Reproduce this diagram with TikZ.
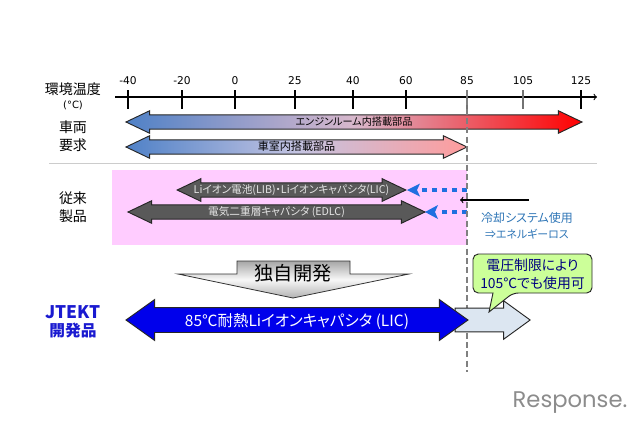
\documentclass[tikz,border=0pt]{standalone}
\usepackage{fontspec}
\setmainfont{Noto Sans CJK JP}[RawFeature=+palt]
\newfontfamily\latinfont{DejaVu Sans}
\newfontfamily\logofont{Poppins}
\usetikzlibrary{shapes.arrows}
\definecolor{coolblue}{HTML}{4F81C7}
\definecolor{pinkbg}{HTML}{FFCCFF}
\definecolor{dotblue}{HTML}{1F6FE0}
\definecolor{noteblue}{HTML}{2E75B6}
\definecolor{darkarrow}{HTML}{595959}
\definecolor{calloutgreen}{HTML}{CCFF99}
\definecolor{extfill}{HTML}{DCE6F1}
\definecolor{midrose}{HTML}{D8B8CC}
\definecolor{midlilac}{HTML}{C4C4E2}
\definecolor{paleRed}{HTML}{FF9C9C}
\definecolor{jtektblue}{HTML}{1A1AD0}
\tikzset{%
    ticklab/.style={font=\latinfont\fontsize{8}{8}\selectfont,inner sep=0pt},
    sidelab/.style={font=\fontsize{10.5}{10.5}\selectfont,inner sep=0pt},
    longarrow/.style={double arrow,draw=black!85,line width=0.7pt,inner sep=0pt,outer sep=0pt,
        text height=7.5pt,text depth=2.5pt,double arrow tip angle=51,
        minimum width=16.2pt,double arrow head extend=3.1pt},
    darkbar/.style={longarrow,fill=darkarrow,text=white!90!black,font=\fontsize{8}{8}\selectfont},
    dotline/.style={dotblue,line width=3.5pt,dash pattern=on 3.6pt off 3.9pt},
    dothead/.style={fill=dotblue,draw=none}
}
\begin{document}
\begin{tikzpicture}[x=0.75pt,y=-0.75pt]
    \useasboundingbox (0,0) rectangle (640,425);
    % temperature axis
    \coordinate (axl) at (115,97);
    \coordinate (axr) at (597,97);
    \draw[thick,->] (axl) -- (axr);
    \foreach \tname/\tx/\tlab/\tcol in {a/128/-40/black,b/182/-20/black,c/235/0/black,d/295/25/black,e/353/40/black,f/406/60/black,g/467/85/black!55,h/523/105/black!55,i/581/125/black}{
        \node[ticklab] (lab\tname) at (\tx,81) {\tlab};
        \coordinate (up\tname) at (\tx,90);
        \coordinate (lo\tname) at (\tx,109);
        \draw[thick,draw=\tcol] (up\tname) -- (lo\tname);
    }
    \node[sidelab] (envtemp) at (73,89) {環境温度};
    \node[inner sep=0pt,font=\latinfont\fontsize{7.5}{7.5}\selectfont] (envunit) at (73,105) {(°C)};
    \node[sidelab] (reqa) at (73,127) {車両};
    \node[sidelab] (reqb) at (73,145) {要求};
    % separator
    \coordinate (sepl) at (49,163.5);
    \coordinate (sepr) at (597,163.5);
    \draw[black!20,line width=1.2pt] (sepl) -- (sepr);
    % conventional band
    \fill[pinkbg] (112,170) rectangle (467,245);
    \node[sidelab] (conva) at (73,198) {従来};
    \node[sidelab] (convb) at (73,216) {製品};
    % requirement arrows
    \node[longarrow,minimum height=342pt,left color=coolblue,right color=red,middle color=midrose,
        font=\fontsize{7.6}{7.6}\selectfont] (engine) at (354,122) {エンジンルーム内搭載部品};
    \node[longarrow,minimum height=255.75pt,left color=coolblue,right color=paleRed,middle color=midlilac,
        font=\fontsize{8.3}{8.3}\selectfont] (cabin) at (296.5,147) {車室内搭載部品};
    % conventional arrows
    \node[darkbar,minimum height=171.5pt] (lib) at (291.5,190) {Liイオン電池(LIB)・Liイオンキャパシタ(LIC)};
    \node[darkbar,minimum height=222.75pt] (edlc) at (276.5,212) {電気二重層キャパシタ (EDLC)};
    % dotted gaps
    \coordinate (dota) at (467,190);
    \coordinate (dotb) at (421,190);
    \coordinate (dotc) at (467,212);
    \coordinate (dotd) at (441,212);
    \draw[dotline] (dota) -- (dotb);
    \draw[dotline] (dotc) -- (dotd);
    \fill[dothead] (407,190) -- (420,183.5) -- (417,190) -- (420,196.5) -- cycle;
    \fill[dothead] (425,212) -- (438,205) -- (435,212) -- (438,219) -- cycle;
    % limit line
    \coordinate (limt) at (467,90);
    \coordinate (limb) at (467,372);
    \draw[black!50,line width=1pt,dash pattern=on 4.5pt off 2.5pt] (limt) -- (limb);
    % cooling note
    \coordinate (coolr) at (529,200);
    \coordinate (cooll) at (460,200);
    \draw[thick,->] (coolr) -- (cooll);
    \node[inner sep=0pt,text=noteblue,font=\fontsize{9}{9}\selectfont] (notea) at (527,218) {冷却システム使用};
    \node[inner sep=0pt,text=noteblue,font=\fontsize{8.2}{8.2}\selectfont] (noteb) at (527,234) {⇒エネルギーロス};
    % own development
    \draw[black!80,line width=0.6pt,top color=black!35,bottom color=black!30,middle color=black!3]
        (237,261) -- (350,261) -- (350,274) -- (409,274) -- (293,298) -- (178,274) -- (237,274) -- cycle;
    \node[inner sep=0pt,font=\fontsize{14.4}{14.4}\selectfont] (own) at (293,273) {独自開発};
    % jtekt arrows
    \node[single arrow,draw=black!85,fill=extfill,line width=0.7pt,inner sep=0pt,outer sep=0pt,text height=17pt,
        minimum height=56.25pt,minimum width=28.5pt,single arrow head extend=5.6pt,single arrow tip angle=72] (ext) at (484.5,320) {};
    \node[longarrow,fill=blue!92!black,text=white,font=\fontsize{11.6}{11.6}\selectfont,text height=13.5pt,text depth=4.5pt,
        minimum height=256.5pt,minimum width=30pt,double arrow head extend=6pt,double arrow tip angle=71] (lic) at (297,320) {85℃耐熱Liイオンキャパシタ (LIC)};
    \node[inner sep=0pt,text=jtektblue,font=\bfseries\fontsize{13}{13}\selectfont] (jtekt) at (73,312) {JTEKT};
    \node[inner sep=0pt,text=jtektblue,font=\bfseries\fontsize{11.8}{11.8}\selectfont] (jdev) at (73,331) {開発品};
    % voltage callout
    \draw[black!85,fill=calloutgreen,line width=0.7pt,rounded corners=4pt]
        (493,293) -- (473,293) -- (473,254) -- (592,254) -- (592,293) -- (513,293) [sharp corners] -- (489,312) -- cycle;
    \node[inner sep=0pt,text=blue!50!black,font=\fontsize{10.4}{10.4}\selectfont] (volta) at (532.5,265) {電圧制限により};
    \node[inner sep=0pt,text=blue!50!black,font=\fontsize{10.4}{10.4}\selectfont] (voltb) at (532.5,283) {105℃でも使用可};
    % watermark
    \node[inner sep=0pt,text=black!45,font=\logofont\fontsize{17}{17}\selectfont] (logo) at (570,403) {Response.};
\end{tikzpicture}
\end{document}
